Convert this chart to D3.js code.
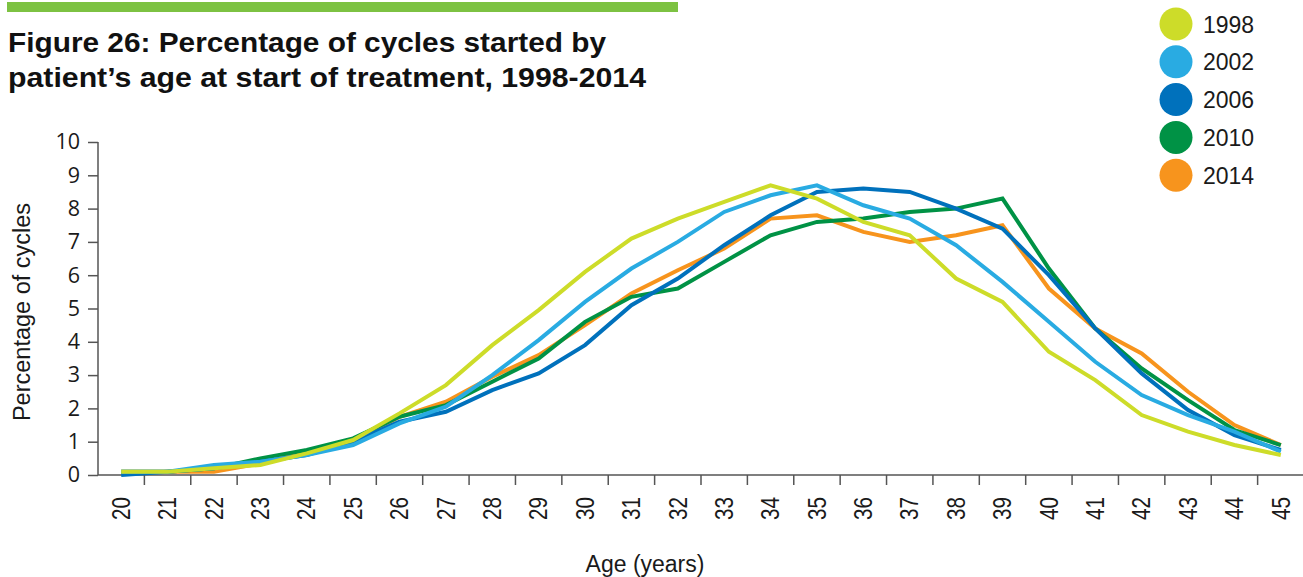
<!DOCTYPE html>
<html lang="en">
  <head>
    <meta charset="utf-8">
    <title>Figure 26</title>
    <script src="https://d3js.org/d3.v7.min.js"></script>
    <style>
      body { margin: 0; background: #fff; }
      svg text { font-family: "Liberation Sans", Arial, sans-serif; fill: #1a1a1a; }
      .axis path, .axis line { stroke: #555; stroke-width: 1.5px; }
      .xaxis text { font-size: 25px; }
      .yaxis text { font-family: "Open Sans", "Noto Sans", sans-serif; font-size: 21.5px; }
    </style>
  </head>
  <body>
    <div id="chart"></div>
    <script>
      // ages on the x axis
      var ages = d3.range(20, 46);
      var years = ["1998", "2002", "2006", "2010", "2014"];
      var colours = ["#cddc29", "#29abe2", "#0071bc", "#009245", "#f7941d"];
      var yTicks = [0, 1, 2, 3, 4, 5, 6, 7, 8, 9, 10];

      // percentage of cycles per age
      var pct1998 = [0.1, 0.1, 0.2, 0.3, 0.65, 1.05, 1.85, 2.7, 3.9, 4.95, 6.1, 7.1, 7.7, 8.2, 8.7, 8.3, 7.6, 7.2, 5.9, 5.2, 3.7, 2.85, 1.8, 1.3, 0.9, 0.6];
      var pct2002 = [0.1, 0.1, 0.3, 0.4, 0.6, 0.9, 1.55, 2.05, 3.0, 4.05, 5.2, 6.2, 7.0, 7.9, 8.4, 8.7, 8.1, 7.7, 6.9, 5.8, 4.6, 3.4, 2.4, 1.8, 1.3, 0.7];
      var pct2006 = [0.0, 0.1, 0.2, 0.4, 0.6, 1.0, 1.6, 1.9, 2.55, 3.05, 3.9, 5.1, 5.9, 6.9, 7.8, 8.5, 8.6, 8.5, 8.0, 7.4, 6.0, 4.4, 3.05, 1.95, 1.2, 0.75];
      var pct2010 = [0.1, 0.1, 0.2, 0.5, 0.75, 1.1, 1.75, 2.1, 2.8, 3.5, 4.6, 5.35, 5.6, 6.4, 7.2, 7.6, 7.7, 7.9, 8.0, 8.3, 6.2, 4.4, 3.2, 2.25, 1.35, 0.9];
      var pct2014 = [0.1, 0.1, 0.1, 0.35, 0.7, 1.0, 1.75, 2.2, 2.95, 3.6, 4.5, 5.45, 6.15, 6.8, 7.7, 7.8, 7.3, 7.0, 7.2, 7.5, 5.6, 4.4, 3.65, 2.5, 1.5, 0.9];
      var series = [pct1998, pct2002, pct2006, pct2010, pct2014];

      var width = 1303, height = 577;
      var plot = {left: 98, right: 1304, top: 142, bottom: 475};

      var svg = d3.select("#chart").append("svg")
          .attr("width", width)
          .attr("height", height);

      // green bar and title
      svg.append("rect")
          .attr("x", 7).attr("y", 2)
          .attr("width", 671).attr("height", 10)
          .attr("fill", "#7dc242");

      svg.append("text")
          .attr("x", 8).attr("y", 52)
          .attr("textLength", 598).attr("lengthAdjust", "spacingAndGlyphs")
          .style("font-size", "28px").style("font-weight", "bold").style("fill", "#111")
          .text("Figure 26: Percentage of cycles started by");
      svg.append("text")
          .attr("x", 8).attr("y", 87)
          .attr("textLength", 638).attr("lengthAdjust", "spacingAndGlyphs")
          .style("font-size", "28px").style("font-weight", "bold").style("fill", "#111")
          .text("patient\u2019s age at start of treatment, 1998-2014");

      var x = d3.scaleBand()
          .domain(ages)
          .range([plot.left, plot.right]);

      var y = d3.scaleLinear()
          .domain([0, 10])
          .range([plot.bottom, plot.top]);

      // y axis
      svg.append("g")
          .attr("class", "axis yaxis")
          .attr("transform", "translate(" + plot.left + ",0)")
          .call(d3.axisLeft(y).tickValues(yTicks).tickSize(10).tickSizeOuter(0).tickPadding(8))
          .call(g => g.select(".domain").attr("d", "M0," + y(10) + "V" + y(0)));

      // x axis: labels at band centres, ticks at band borders
      var xAxis = svg.append("g")
          .attr("class", "axis xaxis")
          .attr("transform", "translate(0," + plot.bottom + ")")
          .call(d3.axisBottom(x).tickSize(0).tickSizeOuter(0));

      xAxis.select(".domain").attr("d", "M" + plot.left + ",0H" + width);
      xAxis.selectAll(".tick text")
          .attr("transform", "rotate(-90)")
          .attr("text-anchor", "end")
          .attr("x", -22)
          .attr("y", 0)
          .attr("dy", "0.35em")
          .attr("textLength", 23)
          .attr("lengthAdjust", "spacingAndGlyphs");

      xAxis.selectAll("line.border")
          .data(ages.slice(1))
          .enter()
          .append("line")
          .attr("class", "border")
          .attr("x1", d => x(d)).attr("x2", d => x(d))
          .attr("y1", 0).attr("y2", 10);

      // lines, 1998 drawn last so it sits on top
      var line = d3.line()
          .x((d, i) => x(ages[i]) + x.bandwidth() / 2)
          .y(d => y(d));

      svg.append("g").selectAll("path")
          .data(series.map((s, i) => ({ values: s, colour: colours[i] })).reverse())
          .enter()
          .append("path")
          .attr("d", d => line(d.values))
          .attr("fill", "none")
          .attr("stroke", d => d.colour)
          .attr("stroke-width", 4)
          .attr("stroke-linejoin", "miter");

      // axis titles
      svg.append("text")
          .attr("transform", "translate(30,312) rotate(-90)")
          .attr("text-anchor", "middle")
          .style("font-size", "23.5px")
          .text("Percentage of cycles");

      svg.append("text")
          .attr("x", 645).attr("y", 572)
          .attr("text-anchor", "middle")
          .style("font-size", "23px")
          .text("Age (years)");

      // legend
      var legend = svg.append("g").selectAll("g")
          .data(years)
          .enter()
          .append("g")
          .attr("transform", (d, i) => "translate(1176," + (24 + i * 37.8) + ")");

      legend.append("circle")
          .attr("r", 16.5)
          .attr("fill", (d, i) => colours[i]);

      legend.append("text")
          .attr("x", 27).attr("y", 8.5)
          .style("font-size", "23px")
          .text(d => d);
    </script>
  </body>
</html>
